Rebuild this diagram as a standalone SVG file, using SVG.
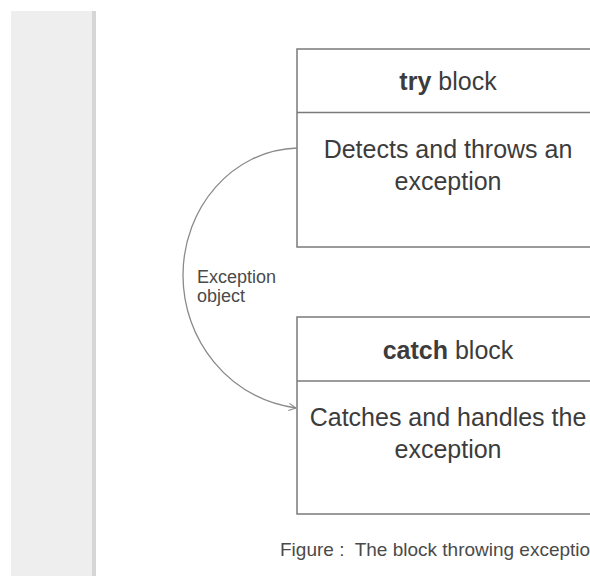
<svg xmlns="http://www.w3.org/2000/svg" width="590" height="576" viewBox="0 0 590 576">
  <style>
    .box { fill: #ffffff; stroke: #7a7a7a; stroke-width: 1.5; }
    .div { stroke: #7a7a7a; stroke-width: 1.5; }
    .t { font-family: "Liberation Sans", Arial, sans-serif; fill: #3c3c3c; text-anchor: middle; font-size: 25px; }
    .lbl { font-family: "Liberation Sans", Arial, sans-serif; font-size: 18px; fill: #4a4a4a; }
    .cap { font-family: "Liberation Sans", Arial, sans-serif; font-size: 19px; fill: #4a4a4a; }
    .conn { fill: none; stroke: #8a8a8a; stroke-width: 1.3; }
  </style>
  <defs>
    <marker id="arrow" viewBox="0 0 10 10" refX="9" refY="5" markerWidth="9" markerHeight="9" markerUnits="userSpaceOnUse" orient="auto">
      <path d="M1,1 L9,5 L1,9" fill="none" stroke="#8a8a8a" stroke-width="1.3"/>
    </marker>
  </defs>
  <rect width="590" height="576" fill="#ffffff"/>
  <!-- side panel -->
  <rect x="11" y="11" width="82" height="565" fill="#eeeeee"/>
  <rect x="92" y="11" width="4" height="565" fill="#d6d6d6"/>

  <g id="try-block">
    <rect class="box" x="297" y="49" width="310" height="198"/>
    <line class="div" x1="297" y1="112.5" x2="607" y2="112.5"/>
    <text class="t" x="448" y="90"><tspan font-weight="bold">try</tspan> block</text>
    <text class="t" x="448" y="158">Detects and throws an</text>
    <text class="t" x="448" y="190">exception</text>
  </g>

  <g id="catch-block">
    <rect class="box" x="297" y="317" width="310" height="197"/>
    <line class="div" x1="297" y1="381" x2="607" y2="381"/>
    <text class="t" x="448" y="359"><tspan font-weight="bold">catch</tspan> block</text>
    <text class="t" x="448" y="426">Catches and handles the</text>
    <text class="t" x="448" y="458">exception</text>
  </g>

  <g id="connectors">
    <path class="conn" d="M297,148 C232,150 183,208 183,275 C183,340 228,398 296,408" marker-end="url(#arrow)"/>
    <text class="lbl" x="197" y="283">Exception</text>
    <text class="lbl" x="197" y="302">object</text>
  </g>

  <text class="cap" x="280" y="556" xml:space="preserve">Figure :  The block throwing exception</text>
</svg>
